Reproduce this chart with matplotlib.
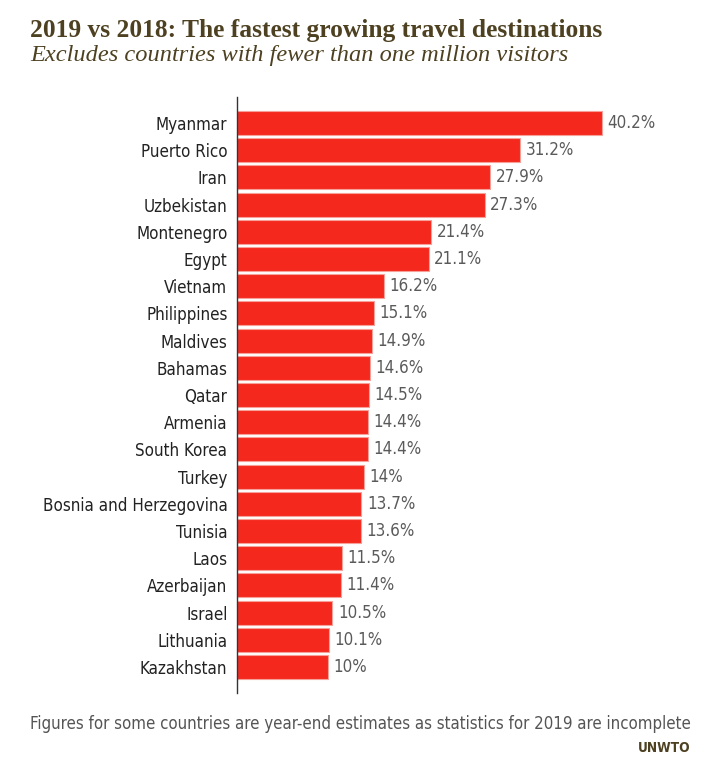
import matplotlib
matplotlib.use("Agg")
import matplotlib.pyplot as plt
import numpy as np

countries = ["Myanmar", "Puerto Rico", "Iran", "Uzbekistan", "Montenegro", "Egypt",
             "Vietnam", "Philippines", "Maldives", "Bahamas", "Qatar", "Armenia",
             "South Korea", "Turkey", "Bosnia and Herzegovina", "Tunisia", "Laos",
             "Azerbaijan", "Israel", "Lithuania", "Kazakhstan"]
growth = [40.2, 31.2, 27.9, 27.3, 21.4, 21.1, 16.2, 15.1, 14.9, 14.6, 14.5, 14.4,
          14.4, 14.0, 13.7, 13.6, 11.5, 11.4, 10.5, 10.1, 10.0]
value_labels = ["40.2%", "31.2%", "27.9%", "27.3%", "21.4%", "21.1%", "16.2%", "15.1%",
                "14.9%", "14.6%", "14.5%", "14.4%", "14.4%", "14%", "13.7%", "13.6%",
                "11.5%", "11.4%", "10.5%", "10.1%", "10%"]

sans = ["DejaVu Sans Condensed", "DejaVu Sans"]
olive = "#4d4121"

fig = plt.figure(figsize=(7.1, 7.66), dpi=100)
ax = fig.add_axes([0.334, 0.0953, 0.62, 0.7781])

y = np.arange(len(countries))
ax.barh(y, growth, height=0.88, color="#f5281e", edgecolor="#f7a09a", linewidth=0.8)
for yi, v, lab in zip(y, growth, value_labels):
    ax.text(v + 0.6, yi, lab, va="center", ha="left", fontsize=12.2,
            color="#5a5a5a", family=sans, fontstretch="condensed")

ax.set_ylim(len(countries) - 1 + 0.956, -0.956)
ax.set_xlim(0, 48.5)
ax.set_yticks(y)
ax.set_yticklabels(countries, family=sans, fontsize=12.2, color="#222222",
                   fontstretch="condensed")
ax.tick_params(axis="y", length=0, pad=7)
ax.set_xticks([])
for s in ["top", "right", "bottom"]:
    ax.spines[s].set_visible(False)
ax.spines["left"].set_color("#333333")
ax.spines["left"].set_linewidth(1.0)

fig.text(0.042, 0.960, "2019 vs 2018: The fastest growing travel destinations",
         family="Liberation Serif", fontweight="bold", fontsize=18.4, color=olive,
         va="center", ha="left")
fig.text(0.042, 0.927, "Excludes countries with fewer than one million visitors",
         family="Liberation Serif", style="italic", fontsize=17.6, color=olive,
         va="center", ha="left")
fig.text(0.042, 0.055, "Figures for some countries are year-end estimates as statistics for 2019 are incomplete",
         family=sans, fontsize=12.05, color="#555555", va="center", ha="left",
         fontstretch="condensed")
fig.text(0.972, 0.023, "UNWTO", family=sans, fontweight="bold", fontsize=9.8,
         color=olive, va="center", ha="right", fontstretch="condensed")

fig.savefig("out.png", dpi=100)
